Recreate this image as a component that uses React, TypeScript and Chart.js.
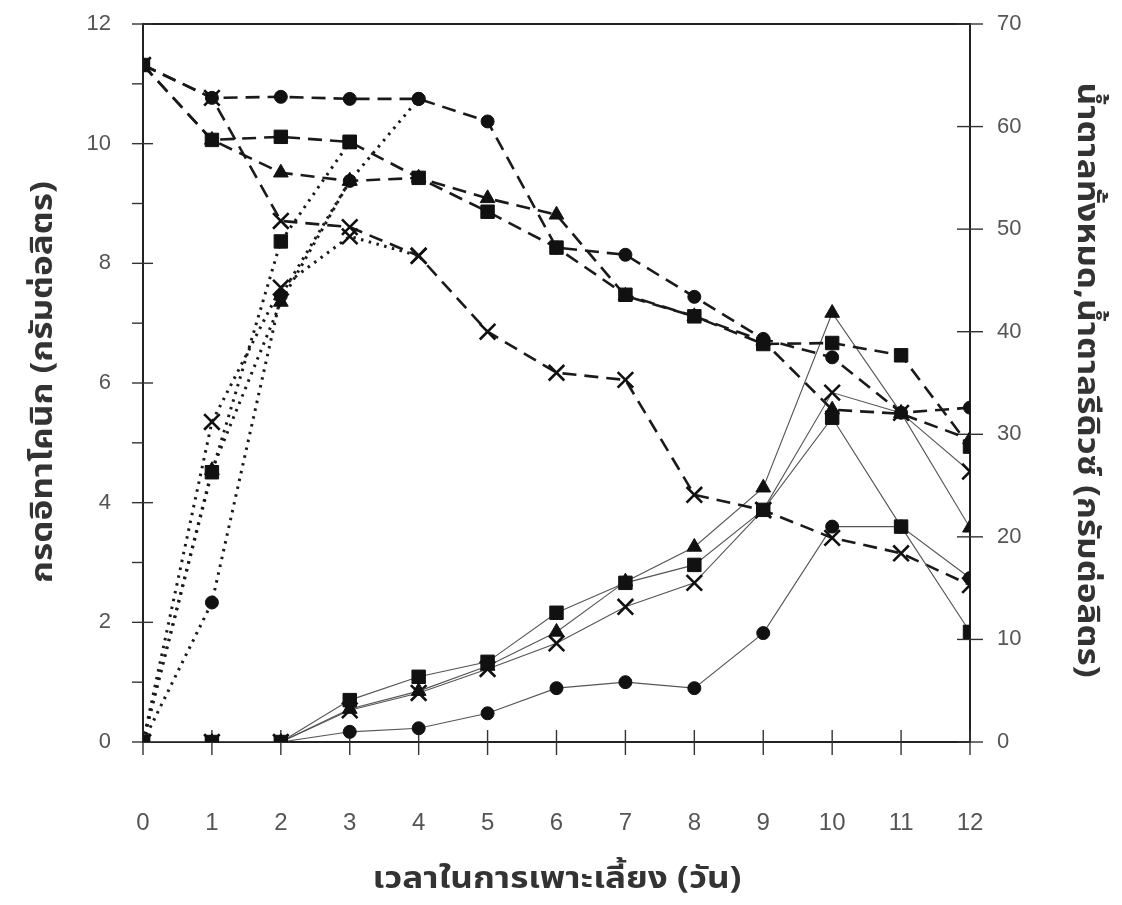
import React, { useEffect, useRef } from "react";
import { Chart, registerables } from "chart.js";

Chart.register(...registerables);

// Days of cultivation
const days = [0, 1, 2, 3, 4, 5, 6, 7, 8, 9, 10, 11, 12];

// Itaconic acid (g/L, left axis)
const acidCircle = [0, 0, 0, 0.17, 0.23, 0.48, 0.9, 1.0, 0.9, 1.82, 3.6, 3.6, 2.74];
const acidSquare = [0, 0, 0, 0.7, 1.09, 1.34, 2.16, 2.66, 2.96, 3.88, 5.42, 3.6, 1.84];
const acidTriangle = [0, 0, 0, 0.55, 0.85, 1.27, 1.84, 2.68, 3.26, 4.25, 7.17, 5.5, 3.58];
const acidCross = [0, 0, 0, 0.53, 0.82, 1.22, 1.65, 2.26, 2.66, 3.88, 5.84, 5.5, 4.52];

// Total sugar (g/L, right axis)
const totalCircle = [66.0, 62.8, 62.9, 62.7, 62.7, 60.5, 48.2, 47.5, 43.4, 39.3, 37.5, 32.1, 32.6];
const totalSquare = [66.0, 58.7, 59.0, 58.5, 55.0, 51.7, 48.2, 43.6, 41.5, 38.8, 38.9, 37.7, 28.8];
const totalTriangle = [66.0, 58.7, 55.5, 54.7, 55.0, 53.0, 51.4, 43.5, 41.5, 39.1, 32.4, 32.0, 29.5];
const totalCross = [66.0, 62.8, 50.8, 50.2, 47.4, 40.0, 36.0, 35.3, 24.1, 22.6, 19.9, 18.4, 15.3];

// Reducing sugar (g/L, right axis), measured until it joins total sugar
const reducingCircle = [0, 13.6, 43.5, 54.7, 62.7];
const reducingSquare = [0, 26.3, 48.8, 58.5];
const reducingTriangle = [0, 26.5, 42.9, 54.7];
const reducingCross = [0, 31.2, 44.3, 49.3, 47.4];

// Axis ticks
const leftTicks = [0, 1, 2, 3, 4, 5, 6, 7, 8, 9, 10, 11, 12];
const rightTicks = [0, 10, 20, 30, 40, 50, 60, 70];

const xTitle = "เวลาในการเพาะเลี้ยง (วัน)";
const leftTitle = "กรดอิทาโคนิก (กรัมต่อลิตร)";
const rightTitle = "น้ำตาลทั้งหมด,น้ำตาลรีดิวซ์ (กรัมต่อลิตร)";

const THAI_FONT = "'Noto Sans Thai', 'Noto Sans', 'DejaVu Sans', sans-serif";
const NUM_FONT = "'Liberation Sans', Arial, sans-serif";

type Marker = "circle" | "rect" | "triangle" | "crossRot";

const markerStyle = (m: Marker) => {
  switch (m) {
    case "circle":
      return { pointStyle: "circle", pointRadius: 6.5, pointBorderWidth: 1 };
    case "rect":
      return { pointStyle: "rect", pointRadius: 9.5, pointBorderWidth: 1 };
    case "triangle":
      return { pointStyle: "triangle", pointRadius: 8.5, pointBorderWidth: 1 };
    default:
      return { pointStyle: "crossRot", pointRadius: 11, pointBorderWidth: 2.6 };
  }
};

const toPoints = (vals: number[]) => vals.map((v, i) => ({ x: days[i], y: v }));

const makeSet = (
  label: string,
  vals: number[],
  marker: Marker,
  kind: "acid" | "total" | "reducing"
) => {
  const base: any = {
    label,
    data: toPoints(vals),
    yAxisID: kind === "acid" ? "y" : "y2",
    pointBackgroundColor: "#111",
    pointBorderColor: "#111",
    fill: false,
    tension: 0,
    ...markerStyle(marker),
  };
  if (kind === "acid") {
    base.borderColor = "#555";
    base.borderWidth = 1.1;
  } else if (kind === "total") {
    base.borderColor = "#1a1a1a";
    base.borderWidth = 2.6;
    base.borderDash = [14, 8];
  } else {
    base.borderColor = "#1a1a1a";
    base.borderWidth = 3;
    base.borderDash = [2.5, 5.5];
  }
  return base;
};

// Stretched bold title text centred at (cx, cy), rotated by angle
const drawTitle = (ctx: any, text: string, cx: number, cy: number, angle: number) => {
  ctx.save();
  ctx.translate(cx, cy);
  ctx.rotate(angle);
  ctx.scale(1.17, 1);
  ctx.fillText(text, 0, 0);
  ctx.restore();
};

const frameAndTitles = {
  id: "frameAndTitles",
  beforeDatasetsDraw(chart: any) {
    const { ctx, chartArea: a, scales } = chart;
    ctx.save();
    ctx.strokeStyle = "#222";
    ctx.lineWidth = 2;
    ctx.strokeRect(a.left, a.top, a.right - a.left, a.bottom - a.top);
    ctx.lineWidth = 1.4;
    ctx.strokeStyle = "#333";
    const line = (x1: number, y1: number, x2: number, y2: number) => {
      ctx.beginPath();
      ctx.moveTo(x1, y1);
      ctx.lineTo(x2, y2);
      ctx.stroke();
    };
    leftTicks.forEach((v) => {
      const y = scales.y.getPixelForValue(v);
      if (v % 2 === 0) line(a.left - 11, y, a.left + 10, y);
      else line(a.left - 11, y, a.left, y);
    });
    rightTicks.forEach((v) => {
      const y = scales.y2.getPixelForValue(v);
      line(a.right - 13, y, a.right + 13, y);
    });
    days.forEach((d) => {
      const x = scales.x.getPixelForValue(d);
      line(x, a.bottom - 12, x, a.bottom + 13);
    });
    ctx.restore();
  },
  afterDraw(chart: any) {
    const { ctx } = chart;
    ctx.save();
    ctx.fillStyle = "#333";
    ctx.textAlign = "center";
    ctx.textBaseline = "middle";
    ctx.font = `bold 30px ${THAI_FONT}`;
    drawTitle(ctx, xTitle, 557, 882, 0);
    drawTitle(ctx, leftTitle, 46, 382, -Math.PI / 2);
    drawTitle(ctx, rightTitle, 1084, 380, Math.PI / 2);
    ctx.restore();
  },
};

const noEdgePadding = (s: any) => {
  s.paddingTop = 0;
  s.paddingBottom = 0;
  s.paddingLeft = 0;
  s.paddingRight = 0;
};

export default function App() {
  const ref = useRef<HTMLCanvasElement | null>(null);

  useEffect(() => {
    document.body.style.margin = "0";
    const canvas = ref.current;
    if (!canvas) return;

    const datasets = [
      makeSet("reducing-circle", reducingCircle, "circle", "reducing"),
      makeSet("reducing-square", reducingSquare, "rect", "reducing"),
      makeSet("reducing-triangle", reducingTriangle, "triangle", "reducing"),
      makeSet("reducing-cross", reducingCross, "crossRot", "reducing"),
      makeSet("total-circle", totalCircle, "circle", "total"),
      makeSet("total-square", totalSquare, "rect", "total"),
      makeSet("total-triangle", totalTriangle, "triangle", "total"),
      makeSet("total-cross", totalCross, "crossRot", "total"),
      makeSet("acid-circle", acidCircle, "circle", "acid"),
      makeSet("acid-square", acidSquare, "rect", "acid"),
      makeSet("acid-triangle", acidTriangle, "triangle", "acid"),
      makeSet("acid-cross", acidCross, "crossRot", "acid"),
    ];
    // square markers end up on top
    datasets.forEach((d: any) => {
      d.order = d.pointStyle === "rect" ? 0 : 1;
    });

    const chart = new Chart(canvas, {
      type: "line",
      data: { datasets },
      options: {
        responsive: false,
        animation: false,
        events: [],
        layout: { padding: { top: 24, left: 0, right: 0, bottom: 0 } },
        plugins: {
          legend: { display: false },
          tooltip: { enabled: false },
        },
        scales: {
          x: {
            type: "linear",
            min: 0,
            max: 12,
            afterBuildTicks: (s: any) => {
              s.ticks = days.map((d) => ({ value: d }));
            },
            afterFit: (s: any) => {
              s.height = 163;
              noEdgePadding(s);
            },
            grid: { display: false, drawTicks: false, tickLength: 0 },
            border: { display: false },
            ticks: {
              padding: 67,
              color: "#555",
              font: { family: "'Liberation Sans Narrow', " + NUM_FONT, size: 24 },
              maxRotation: 0,
              autoSkip: false,
            },
          },
          y: {
            type: "linear",
            position: "left",
            min: 0,
            max: 12,
            afterBuildTicks: (s: any) => {
              s.ticks = leftTicks.filter((v) => v % 2 === 0).map((v) => ({ value: v }));
            },
            afterFit: (s: any) => {
              s.width = 143;
              noEdgePadding(s);
            },
            grid: { display: false, drawTicks: false, tickLength: 0 },
            border: { display: false },
            ticks: {
              padding: 32,
              color: "#555",
              font: { family: NUM_FONT, size: 22 },
            },
          },
          y2: {
            type: "linear",
            position: "right",
            min: 0,
            max: 70,
            afterBuildTicks: (s: any) => {
              s.ticks = rightTicks.map((v) => ({ value: v }));
            },
            afterFit: (s: any) => {
              s.width = 152;
              noEdgePadding(s);
            },
            grid: { display: false, drawTicks: false, tickLength: 0 },
            border: { display: false },
            ticks: {
              padding: 27,
              color: "#555",
              font: { family: NUM_FONT, size: 22 },
            },
          },
        },
      },
      plugins: [frameAndTitles],
    } as any);

    return () => chart.destroy();
  }, []);

  return (
    <div style={{ width: 1122, height: 905, background: "#fff" }}>
      <canvas ref={ref} width={1122} height={905} style={{ display: "block" }} />
    </div>
  );
}
